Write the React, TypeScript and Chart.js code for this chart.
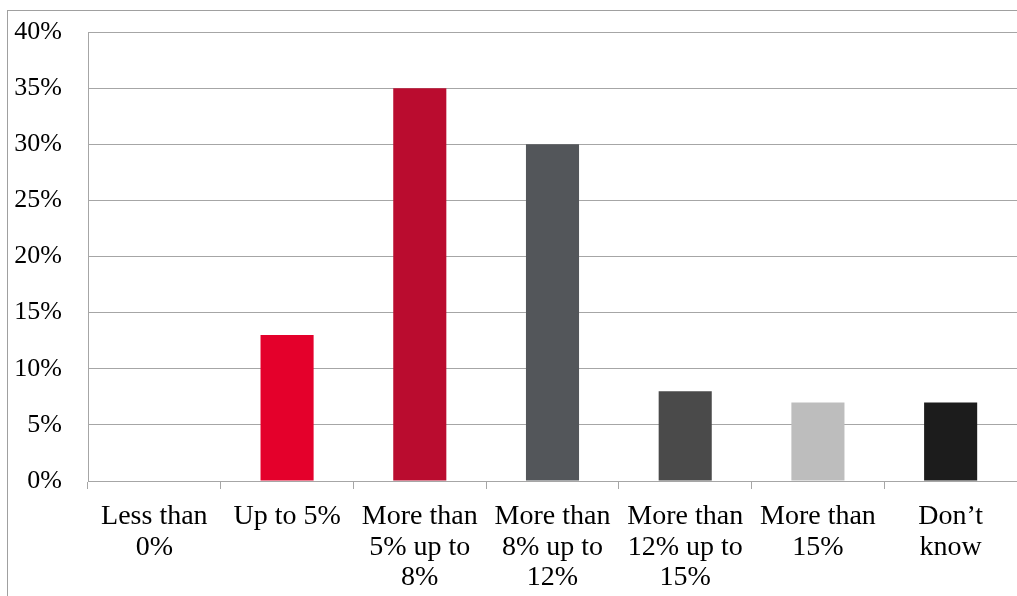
import React, { useEffect, useRef } from "react";
import { Chart, registerables } from "chart.js";

Chart.register(...registerables);

const categories: string[][] = [
  ["Less than", "0%"],
  ["Up to 5%"],
  ["More than", "5% up to", "8%"],
  ["More than", "8% up to", "12%"],
  ["More than", "12% up to", "15%"],
  ["More than", "15%"],
  ["Don’t", "know"],
];
const shares: number[] = [0, 13, 35, 30, 8, 7, 7];
const barColors: string[] = ["#E4002B", "#E4002B", "#BA0C2F", "#53565A", "#4A4A4A", "#BDBDBD", "#1C1C1C"];
const yTicks = { min: 0, max: 40, step: 5 };

const FONT = "'Liberation Serif', 'Times New Roman', serif";
const LINE = "#A6A6A6";

// thin frame around the whole chart object
const framePlugin = {
  id: "frame",
  beforeDraw(chart: Chart) {
    const ctx = chart.ctx;
    ctx.save();
    ctx.strokeStyle = "#A0A0A0";
    ctx.lineWidth = 1;
    ctx.strokeRect(7.5, 10.5, 3000, 3000);
    ctx.restore();
  },
};

export default function App() {
  const ref = useRef<HTMLCanvasElement>(null);

  useEffect(() => {
    if (!ref.current) return;
    const chart = new Chart(ref.current, {
      type: "bar",
      data: {
        labels: categories,
        datasets: [
          {
            data: shares,
            backgroundColor: barColors,
            borderWidth: 0,
            barPercentage: 0.4,
            categoryPercentage: 1,
          },
        ],
      },
      options: {
        animation: false,
        responsive: false,
        layout: { padding: { top: 32, left: 0, right: 0, bottom: 0 } },
        plugins: { legend: { display: false }, tooltip: { enabled: false } },
        scales: {
          x: {
            grid: {
              display: true,
              drawOnChartArea: false,
              drawTicks: true,
              tickLength: 8,
              color: LINE,
              offset: true,
            },
            border: { color: LINE },
            ticks: {
              color: "#000",
              padding: 12,
              maxRotation: 0,
              autoSkip: false,
              font: { family: FONT, size: 28, lineHeight: 1.1 },
            },
            afterFit(scale: any) {
              scale.height = 115;
              scale.paddingLeft = 0;
              scale.paddingRight = 0;
            },
          },
          y: {
            min: yTicks.min,
            max: yTicks.max,
            grid: { color: LINE, drawTicks: false },
            border: { color: LINE },
            ticks: {
              stepSize: yTicks.step,
              color: "#000",
              padding: 26,
              font: { family: FONT, size: 26 },
              callback: (v: any) => `${v}%`,
            },
            afterFit(scale: any) {
              scale.width = 88;
              scale.paddingTop = 0;
              scale.paddingBottom = 0;
            },
          },
        },
      },
      plugins: [framePlugin],
    });
    return () => chart.destroy();
  }, []);

  return (
    <div style={{ position: "absolute", left: 0, top: 0, width: 1017, height: 596, background: "#fff" }}>
      <canvas ref={ref} width={1017} height={596} style={{ display: "block" }} />
    </div>
  );
}
